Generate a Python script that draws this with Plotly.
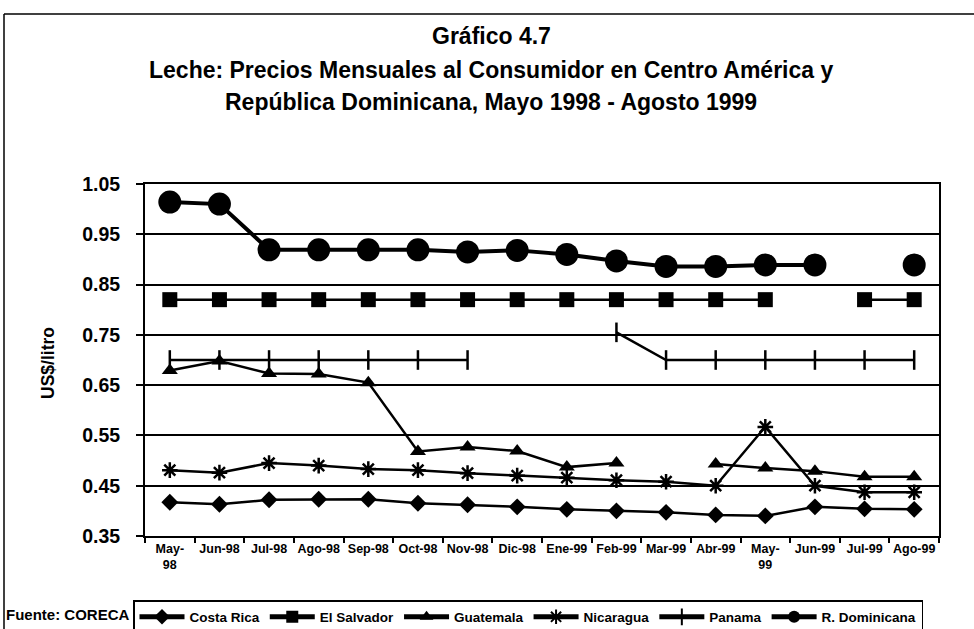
import plotly.graph_objects as go

months = ["May-<br>98", "Jun-98", "Jul-98", "Ago-98", "Sep-98", "Oct-98", "Nov-98", "Dic-98",
          "Ene-99", "Feb-99", "Mar-99", "Abr-99", "May-<br>99", "Jun-99", "Jul-99", "Ago-99"]

costa_rica = [0.417, 0.413, 0.422, 0.423, 0.423, 0.415, 0.412, 0.408,
              0.403, 0.400, 0.397, 0.392, 0.390, 0.408, 0.404, 0.403]
el_salvador = [0.82, 0.82, 0.82, 0.82, 0.82, 0.82, 0.82, 0.82,
               0.82, 0.82, 0.82, 0.82, 0.82, None, 0.82, 0.82]
guatemala = [0.679, 0.698, 0.673, 0.672, 0.655, 0.518, 0.527, 0.519,
             0.487, 0.495, None, 0.493, 0.485, 0.479, 0.468, 0.468]
nicaragua = [0.481, 0.476, 0.495, 0.490, 0.483, 0.481, 0.475, 0.470,
             0.466, 0.461, 0.458, 0.450, 0.567, 0.450, 0.437, 0.437]
panama = [0.70, 0.70, 0.70, 0.70, 0.70, 0.70, 0.70, None,
          None, 0.755, 0.70, 0.70, 0.70, 0.70, 0.70, 0.70]
r_dominicana = [1.014, 1.010, 0.919, 0.919, 0.919, 0.919, 0.915, 0.918,
                0.910, 0.897, 0.886, 0.886, 0.889, 0.889, None, 0.889]

FONT = "Liberation Sans"
W, H = 974, 629
ML, MR, MT, MB = 145, 35, 184, 93
PW, PH = W - ML - MR, H - MT - MB


def px_x(px):
    return (px - ML) / PW


def px_y(py):
    return (H - MB - py) / PH


fig = go.Figure()

series = [
    ("Costa Rica", costa_rica, dict(symbol="diamond", size=13), 2.5),
    ("El Salvador", el_salvador, dict(symbol="square", size=15), 2.5),
    ("Guatemala", guatemala, dict(symbol="triangle-up", size=14), 2.5),
    ("Nicaragua", nicaragua, dict(symbol="asterisk-open", size=13, line=dict(width=2.5, color="black")), 2.5),
    ("Panama", panama, dict(symbol="line-ns-open", size=14, line=dict(width=2.5, color="black")), 2.5),
    ("R. Dominicana", r_dominicana, dict(symbol="circle", size=23), 4),
]

for name, vals, mk, lw in series:
    mk = dict(mk)
    mk.setdefault("color", "black")
    fig.add_trace(go.Scatter(
        x=months, y=vals, name=name, mode="lines+markers",
        line=dict(color="black", width=lw), marker=mk, connectgaps=False,
    ))

title_lines = [
    ("Gráfico 4.7", 36),
    ("Leche: Precios Mensuales al Consumidor en Centro América y", 70),
    ("República Dominicana, Mayo 1998 - Agosto 1999", 102),
]
annotations = []
for txt, yy in title_lines:
    annotations.append(dict(
        text=txt, xref="paper", yref="paper", x=px_x(491), y=px_y(yy),
        xanchor="center", yanchor="middle", showarrow=False,
        font=dict(family=FONT, size=23, color="black", weight="bold"),
    ))
annotations.append(dict(
    text="Fuente: CORECA", xref="paper", yref="paper", x=px_x(4), y=px_y(614),
    xanchor="left", yanchor="middle", showarrow=False,
    font=dict(family=FONT, size=15, color="black", weight="bold"),
))
annotations.append(dict(
    text="US$/litro", xref="paper", yref="paper", x=px_x(48), y=px_y(363),
    xanchor="center", yanchor="middle", showarrow=False, textangle=-90,
    font=dict(family=FONT, size=17.5, color="black", weight="bold"),
))

shapes = [
    dict(type="line", xref="paper", yref="paper", x0=px_x(4), x1=px_x(974),
         y0=px_y(14), y1=px_y(14), line=dict(color="black", width=1.5)),
    dict(type="line", xref="paper", yref="paper", x0=px_x(4), x1=px_x(4),
         y0=px_y(14), y1=px_y(629), line=dict(color="black", width=1.5)),
]

fig.update_layout(
    width=W, height=H,
    margin=dict(l=ML, r=MR, t=MT, b=MB, autoexpand=False),
    paper_bgcolor="white", plot_bgcolor="white",
    font=dict(family=FONT, color="black"),
    annotations=annotations, shapes=shapes,
    showlegend=True,
    legend=dict(
        orientation="h", xref="container", yref="container",
        x=133 / W, y=1 - 600 / H, xanchor="left", yanchor="top",
        bordercolor="black", borderwidth=1.5, bgcolor="white",
        font=dict(family=FONT, size=13.5, color="black", weight="bold"),
        traceorder="normal", itemsizing="constant", itemwidth=45,
    ),
)

fig.update_xaxes(
    type="category", range=[-0.5, 15.5],
    showline=True, linecolor="black", linewidth=2, mirror=True,
    ticks="outside", tickson="boundaries", ticklen=5, tickcolor="black", tickwidth=1.5,
    showgrid=False, tickangle=0,
    tickfont=dict(family=FONT, size=12.5, color="black", weight="bold"),
)
fig.update_yaxes(
    range=[0.35, 1.05], tick0=0.35, dtick=0.1, tickformat=".2f",
    showline=True, linecolor="black", linewidth=2, mirror=True,
    ticks="outside", ticklen=7, tickcolor="black", tickwidth=1.5,
    showgrid=True, gridcolor="black", gridwidth=1.5, zeroline=False,
    ticklabelstandoff=12,
    tickfont=dict(family=FONT, size=19.5, color="black", weight="bold"),
)

fig.write_html(
    "out.html",
    config={"displayModeBar": False},
    post_script="document.body.style.margin='0px';document.body.style.overflow='hidden';",
)
